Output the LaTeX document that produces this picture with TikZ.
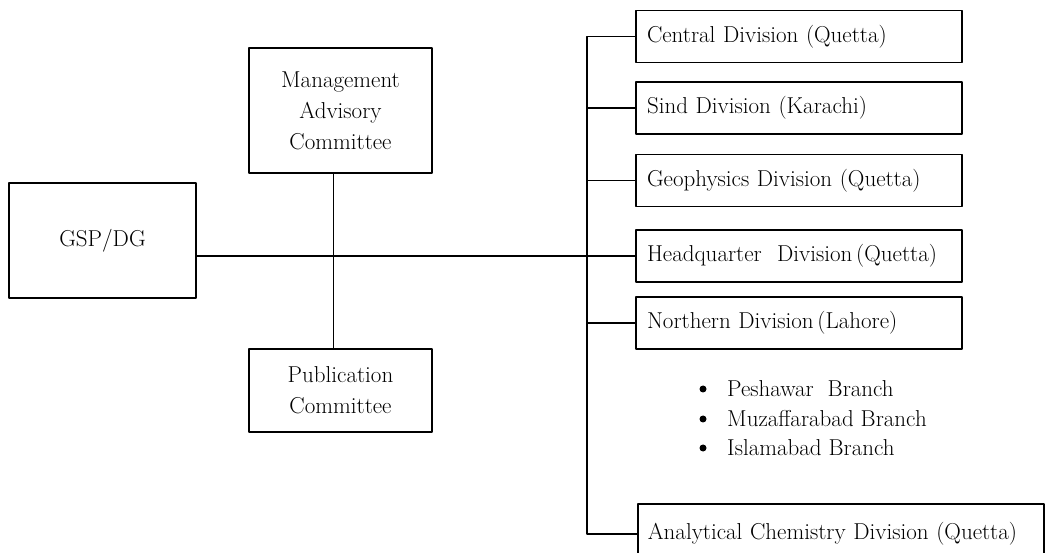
\documentclass[tikz,border=0pt]{standalone}
\usepackage{tikz}
\usetikzlibrary{positioning, calc}

\begin{document}
\begin{tikzpicture}[x=1pt, y=-1pt, line cap=round, line join=round,
    every node/.style={font=\fontsize{23}{31}\selectfont},
    topbox/.style={draw, line width=1.5pt, align=center, inner sep=0pt},
    divbox/.style={draw, line width=1.5pt, minimum width=326pt, minimum height=52pt,
                   text width=304pt, align=left, inner sep=0pt},
    bulletdot/.style={circle, fill, inner sep=0pt, minimum size=7pt}]
    \useasboundingbox (0,0) rectangle (1045,553);

    % head and committees
    \node[topbox, minimum width=187pt, minimum height=115pt] (gsp) at (102.5,240.5) {GSP/DG};
    \node[topbox, minimum width=183pt, minimum height=125pt] (mac) at (340.5,110.5)
        {Management\\Advisory\\Committee};
    \node[topbox, minimum width=183pt, minimum height=83pt] (pub) at (340.5,390.5)
        {Publication\\Committee};

    % divisions
    \node[divbox] (central)  at (799,36.5)  {Central Division (Quetta)};
    \node[divbox] (sind)     at (799,108)   {Sind Division (Karachi)};
    \node[divbox] (geo)      at (799,180.5) {Geophysics Division (Quetta)};
    \node[divbox] (hq)       at (799,256)   {Headquarter\ \ Division\,(Quetta)};
    \node[divbox] (northern) at (799,323)   {Northern Division\,(Lahore)};
    \node[divbox, minimum width=406pt, minimum height=60pt, text width=386pt,
          anchor=north west] (chem) at (637,503) {Analytical Chemistry Division (Quetta)};

    % branches of northern division
    \node[bulletdot] (d1) at (703,389) {};
    \node[bulletdot] (d2) at (703,419) {};
    \node[bulletdot] (d3) at (703,448) {};
    \node[anchor=west, inner sep=0pt] (pesh) at (727,389) {Peshawar\ \ Branch};
    \node[anchor=west, inner sep=0pt] (muz)  at (727,419) {Muzaffarabad Branch};
    \node[anchor=west, inner sep=0pt] (isl)  at (727,448) {Islamabad Branch};

    % trunk on the right
    \coordinate (trunk) at (587,0);
    \draw[line width=1.5pt] (central.west) -- (central.west -| trunk)
        -- (chem.west -| trunk) -- (chem.west);
    \foreach \d in {sind, geo, hq, northern}
        \draw[line width=1.2pt] (\d.west) -- (\d.west -| trunk);

    % main line and committee line
    \draw[line width=1.2pt] (gsp.east |- hq.west) -- (hq.west -| trunk);
    \draw[line width=1.2pt] ([xshift=-7pt]mac.south) -- ([xshift=-7pt]pub.north);
\end{tikzpicture}
\end{document}
